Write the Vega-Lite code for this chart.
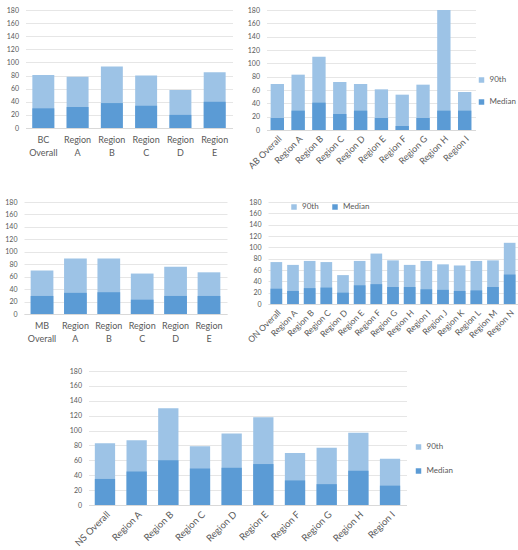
{
  "$schema": "https://vega.github.io/schema/vega-lite/v6.json",
  "padding": {"left": 4, "top": 6, "right": 0, "bottom": 0},
  "datasets": {
    "regions": [
      {"prov": "BC", "region": "BC Overall", "median": 30, "p90": 81},
      {"prov": "BC", "region": "Region A", "median": 32, "p90": 78},
      {"prov": "BC", "region": "Region B", "median": 38, "p90": 94},
      {"prov": "BC", "region": "Region C", "median": 34, "p90": 80},
      {"prov": "BC", "region": "Region D", "median": 20, "p90": 58},
      {"prov": "BC", "region": "Region E", "median": 40, "p90": 85},
      {"prov": "AB", "region": "AB Overall", "median": 18, "p90": 69},
      {"prov": "AB", "region": "Region A", "median": 29, "p90": 83},
      {"prov": "AB", "region": "Region B", "median": 41, "p90": 110},
      {"prov": "AB", "region": "Region C", "median": 24, "p90": 72},
      {"prov": "AB", "region": "Region D", "median": 29, "p90": 69},
      {"prov": "AB", "region": "Region E", "median": 18, "p90": 61},
      {"prov": "AB", "region": "Region F", "median": 6, "p90": 53},
      {"prov": "AB", "region": "Region G", "median": 18, "p90": 68},
      {"prov": "AB", "region": "Region H", "median": 29, "p90": 180},
      {"prov": "AB", "region": "Region I", "median": 29, "p90": 57},
      {"prov": "MB", "region": "MB Overall", "median": 29, "p90": 70},
      {"prov": "MB", "region": "Region A", "median": 34, "p90": 89},
      {"prov": "MB", "region": "Region B", "median": 35, "p90": 89},
      {"prov": "MB", "region": "Region C", "median": 23, "p90": 65},
      {"prov": "MB", "region": "Region D", "median": 29, "p90": 76},
      {"prov": "MB", "region": "Region E", "median": 29, "p90": 67},
      {"prov": "ON", "region": "ON Overall", "median": 27, "p90": 74},
      {"prov": "ON", "region": "Region A", "median": 23, "p90": 69},
      {"prov": "ON", "region": "Region B", "median": 28, "p90": 76},
      {"prov": "ON", "region": "Region C", "median": 29, "p90": 74},
      {"prov": "ON", "region": "Region D", "median": 20, "p90": 51},
      {"prov": "ON", "region": "Region E", "median": 33, "p90": 76},
      {"prov": "ON", "region": "Region F", "median": 35, "p90": 89},
      {"prov": "ON", "region": "Region G", "median": 30, "p90": 77},
      {"prov": "ON", "region": "Region H", "median": 30, "p90": 69},
      {"prov": "ON", "region": "Region I", "median": 26, "p90": 76},
      {"prov": "ON", "region": "Region J", "median": 25, "p90": 70},
      {"prov": "ON", "region": "Region K", "median": 23, "p90": 68},
      {"prov": "ON", "region": "Region L", "median": 24, "p90": 76},
      {"prov": "ON", "region": "Region M", "median": 30, "p90": 77},
      {"prov": "ON", "region": "Region N", "median": 52, "p90": 108},
      {"prov": "NS", "region": "NS Overall", "median": 35, "p90": 83},
      {"prov": "NS", "region": "Region A", "median": 45, "p90": 87},
      {"prov": "NS", "region": "Region B", "median": 60, "p90": 130},
      {"prov": "NS", "region": "Region C", "median": 49, "p90": 79},
      {"prov": "NS", "region": "Region D", "median": 50, "p90": 96},
      {"prov": "NS", "region": "Region E", "median": 55, "p90": 118},
      {"prov": "NS", "region": "Region F", "median": 33, "p90": 70},
      {"prov": "NS", "region": "Region G", "median": 28, "p90": 77},
      {"prov": "NS", "region": "Region H", "median": 46, "p90": 97},
      {"prov": "NS", "region": "Region I", "median": 26, "p90": 62}
    ]
  },
  "data": {"name": "regions"},
  "center": true,
  "spacing": 12,
  "resolve": {"scale": {"color": "independent"}, "legend": {"color": "independent"}},
  "vconcat": [
    {
      "spacing": 14,
      "resolve": {"scale": {"color": "independent"}, "legend": {"color": "independent"}},
      "hconcat": [
        {
          "width": 207,
          "height": 118,
          "transform": [{"filter": "datum.prov === 'BC'"}],
          "encoding": {
            "x": {"field": "region", "type": "nominal", "sort": null, "title": null,
              "scale": {"paddingInner": 0.36, "paddingOuter": 0.2},
              "axis": {"labelAngle": 0, "labelExpr": "split(datum.label, ' ')", "labelFontSize": 9, "labelLineHeight": 13, "labelPadding": 7}}
          },
          "layer": [
            {"mark": "bar", "encoding": {
              "y": {"field": "p90", "type": "quantitative", "title": null, "scale": {"domain": [0, 180]}, "axis": {"values": [0, 20, 40, 60, 80, 100, 120, 140, 160, 180]}},
              "color": {"datum": "90th", "scale": {"domain": ["90th", "Median"], "range": ["#9DC3E6", "#5B9BD5"]}, "legend": null}}},
            {"mark": "bar", "encoding": {
              "y": {"field": "median", "type": "quantitative", "title": null, "scale": {"domain": [0, 180]}, "axis": {"values": [0, 20, 40, 60, 80, 100, 120, 140, 160, 180]}},
              "color": {"datum": "Median"}}}
          ]
        },
        {
          "width": 209,
          "height": 120,
          "transform": [{"filter": "datum.prov === 'AB'"}],
          "encoding": {
            "x": {"field": "region", "type": "nominal", "sort": null, "title": null,
              "scale": {"paddingInner": 0.36, "paddingOuter": 0.2},
              "axis": {"labelAngle": -45, "labelFontSize": 9, "minExtent": 56}}
          },
          "layer": [
            {"mark": "bar", "encoding": {
              "y": {"field": "p90", "type": "quantitative", "title": null, "scale": {"domain": [0, 180]}, "axis": {"values": [0, 20, 40, 60, 80, 100, 120, 140, 160, 180]}},
              "color": {"datum": "90th", "scale": {"domain": ["90th", "Median"], "range": ["#9DC3E6", "#5B9BD5"]},
                "legend": {"orient": "none", "legendX": 211, "legendY": 66, "direction": "vertical", "rowPadding": 14}}}},
            {"mark": "bar", "encoding": {
              "y": {"field": "median", "type": "quantitative", "title": null, "scale": {"domain": [0, 180]}, "axis": {"values": [0, 20, 40, 60, 80, 100, 120, 140, 160, 180]}},
              "color": {"datum": "Median"}}}
          ]
        }
      ]
    },
    {
      "spacing": 18,
      "resolve": {"scale": {"color": "independent"}, "legend": {"color": "independent"}},
      "hconcat": [
        {
          "width": 203,
          "height": 112,
          "transform": [{"filter": "datum.prov === 'MB'"}],
          "encoding": {
            "x": {"field": "region", "type": "nominal", "sort": null, "title": null,
              "scale": {"paddingInner": 0.32, "paddingOuter": 0.2},
              "axis": {"labelAngle": 0, "labelExpr": "split(datum.label, ' ')", "labelFontSize": 9, "labelLineHeight": 13, "labelPadding": 7}}
          },
          "layer": [
            {"mark": "bar", "encoding": {
              "y": {"field": "p90", "type": "quantitative", "title": null, "scale": {"domain": [0, 180]}, "axis": {"values": [0, 20, 40, 60, 80, 100, 120, 140, 160, 180]}},
              "color": {"datum": "90th", "scale": {"domain": ["90th", "Median"], "range": ["#9DC3E6", "#5B9BD5"]}, "legend": null}}},
            {"mark": "bar", "encoding": {
              "y": {"field": "median", "type": "quantitative", "title": null, "scale": {"domain": [0, 180]}, "axis": {"values": [0, 20, 40, 60, 80, 100, 120, 140, 160, 180]}},
              "color": {"datum": "Median"}}}
          ]
        },
        {
          "width": 250,
          "height": 102,
          "transform": [{"filter": "datum.prov === 'ON'"}],
          "encoding": {
            "x": {"field": "region", "type": "nominal", "sort": null, "title": null,
              "scale": {"paddingInner": 0.3, "paddingOuter": 0.15},
              "axis": {"labelAngle": -45, "labelFontSize": 8.5, "minExtent": 51}}
          },
          "layer": [
            {"mark": "bar", "encoding": {
              "y": {"field": "p90", "type": "quantitative", "title": null, "scale": {"domain": [0, 180]}, "axis": {"values": [0, 20, 40, 60, 80, 100, 120, 140, 160, 180]}},
              "color": {"datum": "90th", "scale": {"domain": ["90th", "Median"], "range": ["#9DC3E6", "#5B9BD5"]},
                "legend": {"orient": "none", "legendX": 22, "legendY": 1, "direction": "horizontal", "columnPadding": 12}}}},
            {"mark": "bar", "encoding": {
              "y": {"field": "median", "type": "quantitative", "title": null, "scale": {"domain": [0, 180]}, "axis": {"values": [0, 20, 40, 60, 80, 100, 120, 140, 160, 180]}},
              "color": {"datum": "Median"}}}
          ]
        }
      ]
    },
    {
      "width": 318,
      "height": 134,
      "transform": [{"filter": "datum.prov === 'NS'"}],
      "encoding": {
        "x": {"field": "region", "type": "nominal", "sort": null, "title": null,
          "scale": {"paddingInner": 0.36, "paddingOuter": 0.2},
          "axis": {"labelAngle": -45, "labelFontSize": 9.5}}
      },
      "layer": [
        {"mark": "bar", "encoding": {
          "y": {"field": "p90", "type": "quantitative", "title": null, "scale": {"domain": [0, 180]}, "axis": {"values": [0, 20, 40, 60, 80, 100, 120, 140, 160, 180]}},
          "color": {"datum": "90th", "scale": {"domain": ["90th", "Median"], "range": ["#9DC3E6", "#5B9BD5"]},
            "legend": {"orient": "none", "legendX": 326, "legendY": 72, "direction": "vertical", "rowPadding": 16}}}},
        {"mark": "bar", "encoding": {
          "y": {"field": "median", "type": "quantitative", "title": null, "scale": {"domain": [0, 180]}, "axis": {"values": [0, 20, 40, 60, 80, 100, 120, 140, 160, 180]}},
          "color": {"datum": "Median"}}}
      ]
    }
  ],
  "config": {
    "font": "Lato",
    "view": {"stroke": null},
    "axis": {"labelColor": "#595959", "labelFont": "Lato", "domain": false, "ticks": false, "gridColor": "#e6e6e6", "labelFontSize": 7, "labelOverlap": false},
    "axisX": {"domain": true, "domainColor": "#d9d9d9", "grid": false, "labelPadding": 4},
    "axisY": {"labelPadding": 7},
    "legend": {"title": null, "labelColor": "#595959", "labelFont": "Lato", "labelFontSize": 8, "symbolType": "square", "symbolSize": 30, "symbolStrokeWidth": 0}
  }
}
